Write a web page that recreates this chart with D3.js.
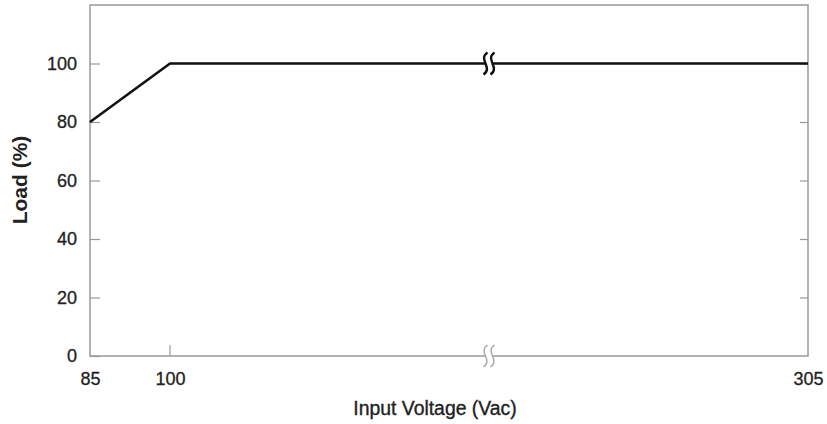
<!DOCTYPE html>
<html lang="en">
<head>
<meta charset="UTF-8">
<title>Load vs Input Voltage</title>
<script src="https://d3js.org/d3.v7.min.js"></script>
<style>
  body { margin: 0; background: #fff; }
  text { font-family: "Liberation Sans", Arial, sans-serif; fill: #222; }
</style>
</head>
<body>
<svg id="chart" width="827" height="424"></svg>
<script>
// Data
const voltage = [85, 100, 305];
const load = [80, 100, 100];
const xTicks = [85, 100, 305];
const yTicks = [0, 20, 40, 60, 80, 100];

const svg = d3.select("#chart");
const margin = { top: 5, right: 19, bottom: 68, left: 90 };
const w = 827 - margin.left - margin.right;
const h = 424 - margin.top - margin.bottom;

// broken x axis: 85-100 on a short segment, rest squeezed
const x = d3.scaleLinear().domain([85, 100, 305]).range([0, 80, w]);
const y = d3.scaleLinear().domain([0, 120]).range([h, 0]);

const g = svg.append("g").attr("transform", `translate(${margin.left},${margin.top})`);

// frame
g.append("rect")
  .attr("width", w).attr("height", h)
  .attr("fill", "none").attr("stroke", "#999").attr("stroke-width", 1.5);

// left axis, ticks inward
const yAxis = g.append("g")
  .call(d3.axisLeft(y).tickValues(yTicks).tickSize(-10).tickPadding(13));
yAxis.select(".domain").remove();
yAxis.selectAll(".tick line").attr("stroke", "#999").attr("stroke-width", 1.2);
yAxis.selectAll(".tick text")
  .attr("font-size", 18).attr("fill", "#222")
  .attr("stroke", "#222").attr("stroke-width", 0.3);

// right side ticks
const yRight = g.append("g").attr("transform", `translate(${w},0)`)
  .call(d3.axisRight(y).tickValues(yTicks.filter(d => d > 0)).tickSize(-8).tickFormat(""));
yRight.select(".domain").remove();
yRight.selectAll(".tick line").attr("stroke", "#999").attr("stroke-width", 1.2);

// bottom axis
const xAxis = g.append("g").attr("transform", `translate(0,${h})`)
  .call(d3.axisBottom(x).tickValues(xTicks).tickSize(0).tickPadding(16));
xAxis.select(".domain").remove();
xAxis.selectAll(".tick text")
  .attr("font-size", 18).attr("fill", "#222")
  .attr("stroke", "#222").attr("stroke-width", 0.3);
xAxis.selectAll(".tick line").remove();
g.append("line")
  .attr("x1", x(100)).attr("x2", x(100))
  .attr("y1", h).attr("y2", h - 11)
  .attr("stroke", "#999").attr("stroke-width", 1.2);

// curve
const line = d3.line().x((d, i) => x(voltage[i])).y(d => y(d));
g.append("path")
  .datum(load)
  .attr("d", line)
  .attr("fill", "none")
  .attr("stroke", "#111")
  .attr("stroke-width", 2.6);

// axis break marks
const bx = x(100) + (x(305) - x(100)) / 2;
function breakMark(cy, color, sw) {
  g.append("rect").attr("x", bx - 3.5).attr("y", cy - 3).attr("width", 7).attr("height", 6).attr("fill", "#fff");
  [-3.5, 3.5].forEach(dx => {
    const cx = bx + dx;
    g.append("path")
      .attr("d", `M${cx + 2},${cy - 11} C${cx - 8},${cy - 4} ${cx + 8},${cy + 4} ${cx - 2},${cy + 11}`)
      .attr("fill", "none")
      .attr("stroke", color)
      .attr("stroke-width", sw);
  });
}
breakMark(y(100), "#111", 2.4);
breakMark(h, "#aaa", 1.5);

// axis titles
svg.append("text")
  .attr("x", 435).attr("y", 415)
  .attr("text-anchor", "middle").attr("font-size", 19.4)
  .attr("stroke", "#222").attr("stroke-width", 0.35)
  .text("Input Voltage (Vac)");
svg.append("text")
  .attr("transform", `translate(27,180) rotate(-90)`)
  .attr("text-anchor", "middle").attr("font-size", 21).attr("font-weight", "bold")
  .text("Load (%)");
</script>
</body>
</html>
